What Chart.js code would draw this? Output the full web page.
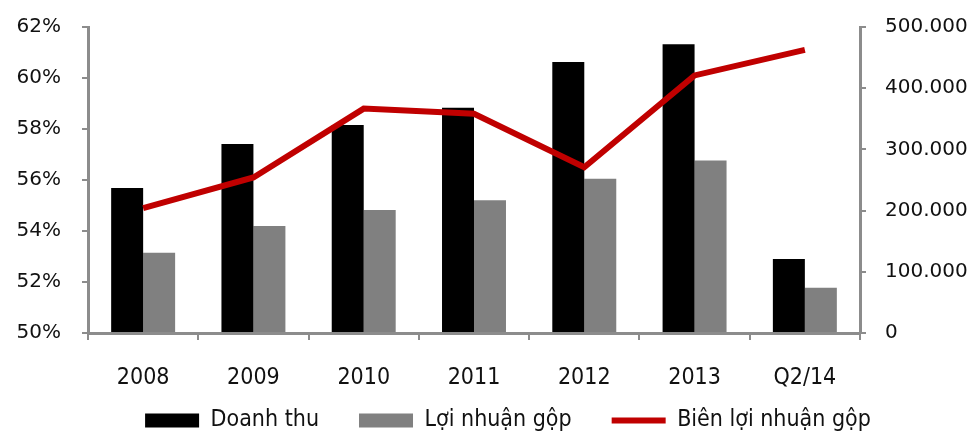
<!DOCTYPE html>
<html>
<head>
<meta charset="utf-8">
<script src="https://cdn.jsdelivr.net/npm/chart.js@4.4.1/dist/chart.umd.min.js"></script>
<style>
html,body{margin:0;padding:0;background:#fff;}
#wrap{width:980px;height:432px;position:relative;}
</style>
</head>
<body>
<div id="wrap"><canvas id="c" width="980" height="432"></canvas></div>
<script>
const categories = ['2008','2009','2010','2011','2012','2013','Q2/14'];
const doanhThu = [237000, 309000, 340000, 368000, 443000, 472000, 121000];
const loiNhuanGop = [131000, 175000, 201000, 217000, 252000, 282000, 74000];
const bienLoiNhuanGop = [54.9, 56.1, 58.8, 58.6, 56.5, 60.1, 61.1];
const leftTicks = [50, 52, 54, 56, 58, 60, 62];
const rightTicks = [0, 100000, 200000, 300000, 400000, 500000];
const seriesNames = ['Doanh thu', 'Lợi nhuận gộp', 'Biên lợi nhuận gộp'];

const AXIS = '#8c8c8c';
const RED = '#C00000';
const COND = '"DejaVu Sans Condensed", "DejaVu Sans", sans-serif';

function fmtThousands(v){
  return String(Math.round(v)).replace(/\B(?=(\d{3})+(?!\d))/g, '.');
}

const legendTweak = {
  id:'legendTweak',
  beforeLayout(chart){
    const lg = chart.legend;
    if (lg && !lg._tweaked){
      const f = lg.fit.bind(lg);
      lg.fit = function(){ f(); this.height = 33; };
      lg._tweaked = true;
    }
  },
  afterLayout(chart){
    const lg = chart.legend;
    if (lg){ lg.left += 18; lg.right += 18; lg.top -= 30; }
  }
};

new Chart(document.getElementById('c'), {
  data: {
    labels: categories,
    datasets: [
      { type:'line', label: seriesNames[2], data: bienLoiNhuanGop, yAxisID:'yL',
        borderColor: RED, backgroundColor: RED, borderWidth: 6, pointRadius: 0,
        tension: 0, order: 0 },
      { type:'bar', label: seriesNames[0], data: doanhThu, yAxisID:'yR',
        backgroundColor:'#000000', categoryPercentage:0.58, barPercentage:1.0, order: 1 },
      { type:'bar', label: seriesNames[1], data: loiNhuanGop, yAxisID:'yR',
        backgroundColor:'#808080', categoryPercentage:0.58, barPercentage:1.0, order: 1 }
    ]
  },
  plugins:[legendTweak],
  options: {
    responsive:false, animation:false,
    layout:{ padding:{ top:27, left:0, right:0, bottom:0 } },
    plugins:{
      tooltip:{enabled:false},
      legend:{
        position:'bottom',
        labels:{
          usePointStyle:true, pointStyleWidth:54, boxWidth:54, boxHeight:14,
          padding:40, color:'#111',
          font:{ family:COND, size:23 },
          generateLabels(chart){
            return [
              { text: seriesNames[0], fillStyle:'#000', strokeStyle:'#000', lineWidth:0, pointStyle:'rect', datasetIndex:1, fontColor:'#111' },
              { text: seriesNames[1], fillStyle:'#808080', strokeStyle:'#808080', lineWidth:0, pointStyle:'rect', datasetIndex:2, fontColor:'#111' },
              { text: seriesNames[2], fillStyle:RED, strokeStyle:RED, lineWidth:6, pointStyle:'line', datasetIndex:0, fontColor:'#111' }
            ];
          }
        }
      }
    },
    scales:{
      x:{
        grid:{ display:true, drawOnChartArea:false, drawTicks:true, tickLength:7, color:AXIS, lineWidth:2, offset:true },
        border:{ color:AXIS, width:3 },
        ticks:{ color:'#111', padding:24, font:{ family:COND, size:23 } },
        afterFit(s){ s.height = 66; }
      },
      yL:{
        position:'left', min:50, max:62,
        afterBuildTicks(s){ s.ticks = leftTicks.map(v=>({value:v})); },
        grid:{ display:true, drawOnChartArea:false, drawTicks:true, tickLength:6, color:AXIS, lineWidth:2 },
        border:{ color:AXIS, width:3 },
        ticks:{ color:'#111', padding:21, font:{ family:'"DejaVu Sans", sans-serif', size:20 }, callback:v=>v+'%' },
        afterFit(s){ s.width = 88; s.paddingTop = 12; s.paddingBottom = 12; }
      },
      yR:{
        position:'right', min:0, max:500000,
        afterBuildTicks(s){ s.ticks = rightTicks.map(v=>({value:v})); },
        grid:{ display:true, drawOnChartArea:false, drawTicks:true, tickLength:6, color:AXIS, lineWidth:2 },
        border:{ color:AXIS, width:3 },
        ticks:{ color:'#111', padding:19, font:{ family:'"DejaVu Sans", sans-serif', size:20 }, callback:v=>fmtThousands(v) },
        afterFit(s){ s.width = 120; s.paddingTop = 12; s.paddingBottom = 12; }
      }
    }
  }
});
</script>
</body>
</html>
